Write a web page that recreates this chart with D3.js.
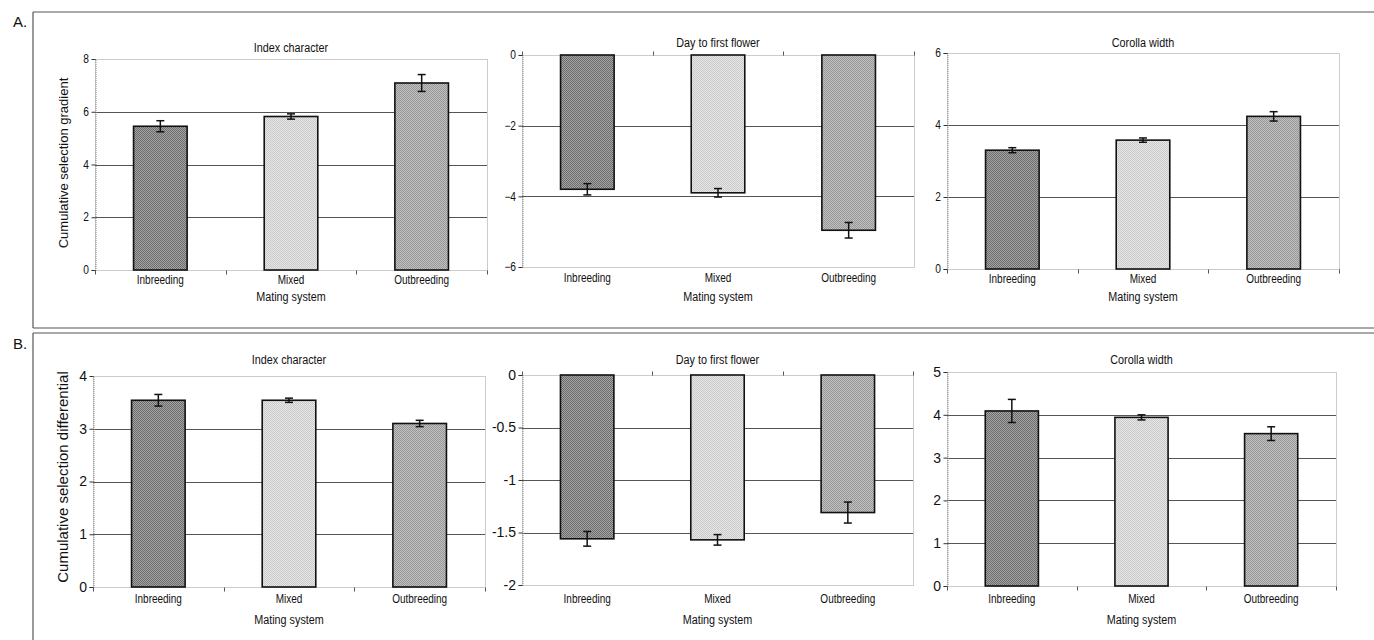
<!DOCTYPE html>
<html><head><meta charset="utf-8">
<script src="https://cdn.jsdelivr.net/npm/d3@7/dist/d3.min.js"></script>
<style>
html,body{margin:0;padding:0;background:#fff;}
svg{display:block;}
text{font-family:"Liberation Sans",Arial,sans-serif;fill:#111;}
</style></head>
<body>
<script>
// ---------- DATA ----------
const categories = ["Inbreeding", "Mixed", "Outbreeding"];

// A. Cumulative selection gradient
const gradIndex = [5.45, 5.82, 7.09];
const gradIndexErr = [0.21, 0.10, 0.32];
const gradFlower = [-3.80, -3.90, -4.96];
const gradFlowerErr = [0.16, 0.12, 0.22];
const gradCorolla = [3.30, 3.58, 4.24];
const gradCorollaErr = [0.07, 0.06, 0.13];

// B. Cumulative selection differential
const diffIndex = [3.54, 3.54, 3.10];
const diffIndexErr = [0.11, 0.04, 0.06];
const diffFlower = [-1.56, -1.57, -1.31];
const diffFlowerErr = [0.07, 0.05, 0.10];
const diffCorolla = [4.09, 3.94, 3.56];
const diffCorollaErr = [0.27, 0.06, 0.16];

// tick labels
const ticksGradIndex = [0, 2, 4, 6, 8];
const ticksGradFlower = [-6, -4, -2, 0];
const ticksGradCorolla = [0, 2, 4, 6];
const ticksDiffIndex = [0, 1, 2, 3, 4];
const ticksDiffFlower = [-2, -1.5, -1, -0.5, 0];
const ticksDiffCorolla = [0, 1, 2, 3, 4, 5];

const titles = ["Index character", "Day to first flower", "Corolla width"];
const xTitle = "Mating system";
const yTitleA = "Cumulative selection gradient";
const yTitleB = "Cumulative selection differential";

// ---------- LAYOUT ----------
const W = 1374, H = 640;
const svg = d3.select("body").append("svg").attr("width", W).attr("height", H);

// condensed text helper (narrow Arial look)
function ctext(sel, x, y, str, fs, sx) {
  return sel.append("text").attr("transform", `translate(${x},${y}) scale(${sx},1)`)
    .attr("text-anchor", "middle").attr("font-size", fs).text(str);
}

// patterns mimicking the halftone fills
const defs = svg.append("defs");
const pats = [
  {id: "p0", a: "#a4a4a4", b: "#6c6c6c"},
  {id: "p1", a: "#e6e6e6", b: "#cacaca"},
  {id: "p2", a: "#c2c2c2", b: "#969696"}
];
pats.forEach(p => {
  const pt = defs.append("pattern").attr("id", p.id).attr("patternUnits", "userSpaceOnUse")
    .attr("width", 2).attr("height", 2);
  pt.append("rect").attr("width", 2).attr("height", 2).attr("fill", p.a);
  pt.append("rect").attr("width", 1).attr("height", 1).attr("fill", p.b);
  pt.append("rect").attr("x", 1).attr("y", 1).attr("width", 1).attr("height", 1).attr("fill", p.b);
});

// frames
const frameColor = "#555";
[[33, 12, W, 12], [33, 12, 33, 328], [33, 328, W, 328], [33, 333, W, 333], [33, 333, 33, H]].forEach(l =>
  svg.append("line").attr("x1", l[0]).attr("y1", l[1]).attr("x2", l[2]).attr("y2", l[3])
    .attr("stroke", frameColor).attr("stroke-width", 1.2));

svg.append("text").attr("x", 13).attr("y", 27).attr("font-size", 15).text("A.");
svg.append("text").attr("x", 13).attr("y", 349).attr("font-size", 15).text("B.");

const panels = [
  {vals: gradIndex, err: gradIndexErr, ticks: ticksGradIndex, title: titles[0], x0: 95, x1: 487, y0: 59, y1: 270, tY: 52, cY: 284, mY: 301, yTitle: yTitleA, yTitleY: 163, yTitleFs: 13, tickFs: 12, tickSx: 0.85, fmt: d3.format("d")},
  {vals: gradFlower, err: gradFlowerErr, ticks: ticksGradFlower, title: titles[1], x0: 522, x1: 914, y0: 55, y1: 267, tY: 47, cY: 282, mY: 301, tickFs: 12, tickSx: 0.85, fmt: d3.format("d")},
  {vals: gradCorolla, err: gradCorollaErr, ticks: ticksGradCorolla, title: titles[2], x0: 947, x1: 1339, y0: 53, y1: 269, tY: 47, cY: 283, mY: 301, tickFs: 12, tickSx: 0.85, fmt: d3.format("d")},
  {vals: diffIndex, err: diffIndexErr, ticks: ticksDiffIndex, title: titles[0], x0: 93, x1: 485, y0: 376, y1: 587, tY: 364, cY: 603, mY: 624, yTitle: yTitleB, yTitleY: 477, yTitleFs: 15, tickFs: 14, tickSx: 1, fmt: d3.format("d")},
  {vals: diffFlower, err: diffFlowerErr, ticks: ticksDiffFlower, title: titles[1], x0: 522, x1: 913, y0: 375, y1: 585, tY: 364, cY: 603, mY: 624, tickFs: 14, tickSx: 1, fmt: d => String(d)},
  {vals: diffCorolla, err: diffCorollaErr, ticks: ticksDiffCorolla, title: titles[2], x0: 947, x1: 1336, y0: 372, y1: 586, tY: 364, cY: 603, mY: 624, tickFs: 14, tickSx: 1, fmt: d3.format("d")}
];

panels.forEach(p => {
  const g = svg.append("g");
  const x = d3.scaleBand().domain(categories).range([p.x0, p.x1]).paddingInner(0.59).paddingOuter(0.295);
  const y = d3.scaleLinear().domain(d3.extent(p.ticks)).range([p.y1, p.y0]);

  // gridlines
  g.selectAll(".grid").data(p.ticks.filter(t => t !== p.ticks[0] && t !== p.ticks[p.ticks.length - 1]))
    .join("line").attr("x1", p.x0).attr("x2", p.x1)
    .attr("y1", d => Math.round(y(d)) + 0.5).attr("y2", d => Math.round(y(d)) + 0.5)
    .attr("stroke", "#555").attr("stroke-width", 1);

  // plot border (dotted gray)
  g.append("rect").attr("x", p.x0 + 0.5).attr("y", p.y0 + 0.5).attr("width", p.x1 - p.x0).attr("height", p.y1 - p.y0)
    .attr("fill", "none").attr("stroke", "#999").attr("stroke-width", 1).attr("stroke-dasharray", "1,1");

  // y axis
  const ya = d3.axisLeft(y).tickValues(p.ticks).tickSize(4).tickFormat("");
  const yg = g.append("g").attr("transform", `translate(${p.x0 + 0.5},0)`).call(ya);
  yg.select(".domain").attr("stroke", "#888").attr("stroke-dasharray", "1,1");
  yg.selectAll(".tick line").attr("stroke", "#333");
  p.ticks.forEach(t => {
    g.append("text").attr("transform", `translate(${p.x0 - 6},${y(t)}) scale(${p.tickSx},1)`)
      .attr("text-anchor", "end").attr("dy", "0.35em").attr("font-size", p.tickFs).text(p.fmt(t));
  });

  // category ticks on zero line
  const step = x.step();
  const zeroY = Math.round(y(0)) + 0.5;
  const dir = y(0) <= p.y0 + 1 ? -1 : 1;
  const bounds = [0, 1, 2, 3].map(i => p.x0 + i * step);
  g.selectAll(".ct").data(bounds).join("line")
    .attr("x1", d => Math.round(d) + 0.5).attr("x2", d => Math.round(d) + 0.5)
    .attr("y1", zeroY).attr("y2", zeroY + dir * 4).attr("stroke", "#555");

  // bars
  g.selectAll(".bar").data(p.vals).join("rect")
    .attr("x", (d, i) => x(categories[i]))
    .attr("width", x.bandwidth())
    .attr("y", d => Math.min(y(d), y(0)))
    .attr("height", d => Math.abs(y(d) - y(0)))
    .attr("fill", (d, i) => `url(#p${i})`)
    .attr("stroke", "#111").attr("stroke-width", 1.6);

  // error bars
  const eb = g.selectAll(".eb").data(p.vals).join("g");
  eb.each(function (d, i) {
    const cx = x(categories[i]) + x.bandwidth() / 2;
    const e = p.err[i];
    const s = d3.select(this);
    s.append("line").attr("x1", cx).attr("x2", cx).attr("y1", y(d + e)).attr("y2", y(d - e)).attr("stroke", "#111").attr("stroke-width", 1.5);
    [d + e, d - e].forEach(v => s.append("line").attr("x1", cx - 4).attr("x2", cx + 4).attr("y1", y(v)).attr("y2", y(v)).attr("stroke", "#111").attr("stroke-width", 1.5));
  });

  // category labels
  categories.forEach(c => ctext(g, x(c) + x.bandwidth() / 2, p.cY, c, 12.5, 0.8));

  // titles
  ctext(g, (p.x0 + p.x1) / 2, p.tY, p.title, 13.5, 0.8);
  ctext(g, (p.x0 + p.x1) / 2, p.mY, xTitle, 13.5, 0.8);

  if (p.yTitle) {
    g.append("text").attr("transform", `translate(68,${p.yTitleY}) rotate(-90)`)
      .attr("text-anchor", "middle").attr("font-size", p.yTitleFs).text(p.yTitle);
  }
});
</script>
</body></html>
